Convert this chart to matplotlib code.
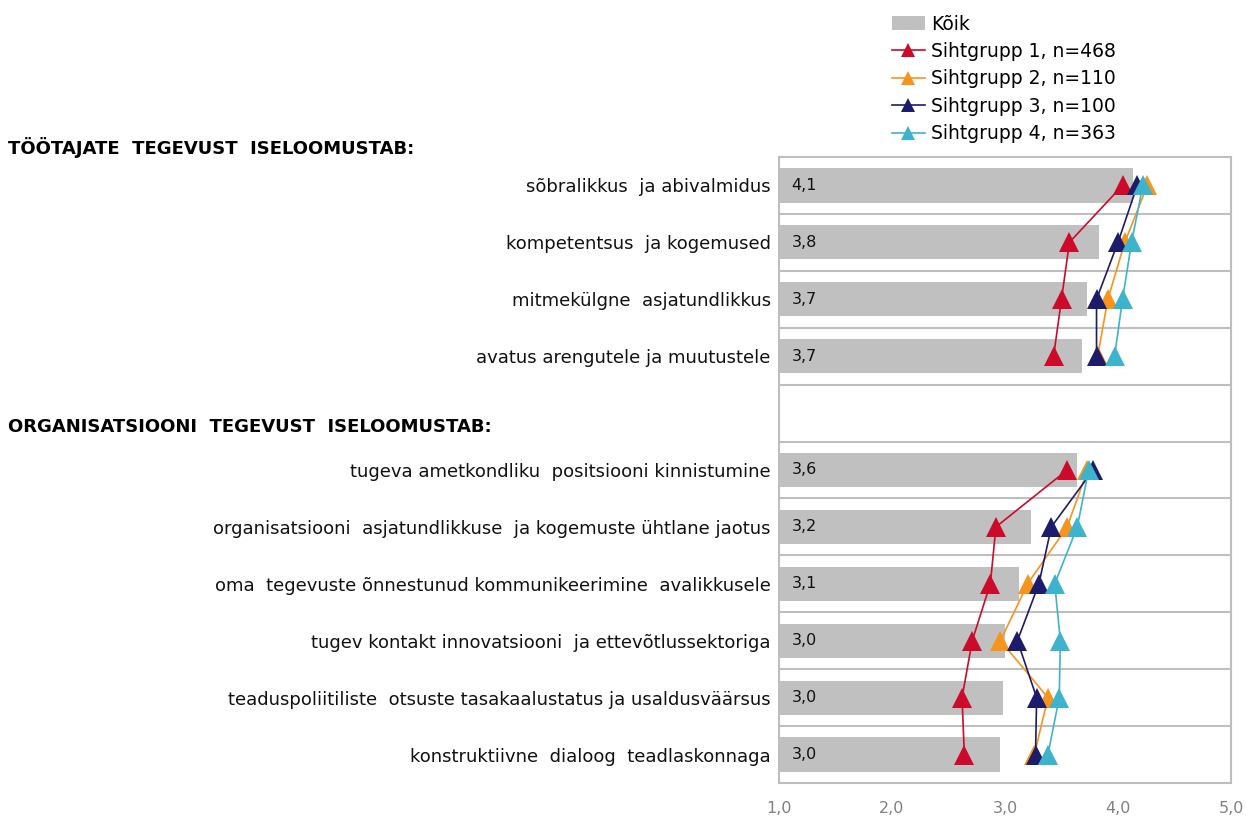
import numpy as np
import matplotlib
matplotlib.use("Agg")
import matplotlib.pyplot as plt
from matplotlib.patches import Patch
from matplotlib.lines import Line2D

# -----------------------------
# data (blank row = section break)
# -----------------------------
categories = [
    "sõbralikkus  ja abivalmidus",
    "kompetentsus  ja kogemused",
    "mitmekülgne  asjatundlikkus",
    "avatus arengutele ja muutustele",
    "",
    "tugeva ametkondliku  positsiooni kinnistumine",
    "organisatsiooni  asjatundlikkuse  ja kogemuste ühtlane jaotus",
    "oma  tegevuste õnnestunud kommunikeerimine  avalikkusele",
    "tugev kontakt innovatsiooni  ja ettevõtlussektoriga",
    "teaduspoliitiliste  otsuste tasakaalustatus ja usaldusväärsus",
    "konstruktiivne  dialoog  teadlaskonnaga",
]
koik = [4.13, 3.83, 3.73, 3.68, np.nan, 3.64, 3.23, 3.12, 3.00, 2.98, 2.96]
grupp1 = [4.04, 3.57, 3.50, 3.43, np.nan, 3.55, 2.92, 2.87, 2.71, 2.62, 2.64]
grupp2 = [4.26, 4.06, 3.91, 3.82, np.nan, 3.73, 3.55, 3.20, 2.96, 3.38, 3.26]
grupp3 = [4.17, 4.00, 3.81, 3.81, np.nan, 3.78, 3.41, 3.30, 3.11, 3.28, 3.27]
grupp4 = [4.22, 4.12, 4.04, 3.97, np.nan, 3.74, 3.64, 3.44, 3.49, 3.48, 3.38]

series_names = ["Sihtgrupp 1, n=468", "Sihtgrupp 2, n=110",
                "Sihtgrupp 3, n=100", "Sihtgrupp 4, n=363"]
series_colors = ["#CC0A2A", "#F7941D", "#1C1C6B", "#3EB3CC"]
headers = ["TÖÖTAJATE  TEGEVUST  ISELOOMUSTAB:",
           "ORGANISATSIOONI  TEGEVUST  ISELOOMUSTAB:"]
xticks = [1.0, 2.0, 3.0, 4.0, 5.0]

BAR_COLOR = "#C0C0C0"
GRID_COLOR = "#BEBEBE"
FONT = "DejaVu Sans"

# -----------------------------
# plot
# -----------------------------
fig = plt.figure(figsize=(12.46, 8.16), dpi=100)
ax = fig.add_axes([779 / 1246, 1 - 783 / 816, (1231 - 779) / 1246, (783 - 157) / 816])

y = np.arange(len(categories))
bar_w = np.array(koik) - 1.0
ax.barh(y, bar_w, left=1.0, height=0.6, color=BAR_COLOR, zorder=2)

for yi, v in zip(y, koik):
    if np.isnan(v):
        continue
    ax.text(1.11, yi, f"{v:.1f}".replace(".", ","), va="center", ha="left",
            fontsize=11.5, color="#111111", family=FONT, zorder=3)

for vals, col in zip([grupp1, grupp2, grupp3, grupp4], series_colors):
    ax.plot(vals, y, color=col, lw=1.2, marker="^", markersize=14,
            markeredgewidth=0, zorder=4)

ax.set_xlim(1, 5)
ax.set_ylim(len(categories) - 0.5, -0.5)

# row separators
for i in range(len(categories) - 1):
    ax.axhline(i + 0.5, color=GRID_COLOR, lw=1.5, zorder=1)

for sp in ax.spines.values():
    sp.set_color(GRID_COLOR)
    sp.set_linewidth(1.5)

ax.set_xticks(xticks)
ax.set_xticklabels([f"{t:.1f}".replace(".", ",") for t in xticks],
                   color="#808080", fontsize=11.5, family=FONT)
ax.tick_params(axis="x", length=0, pad=13)
ax.set_yticks(y)
ax.set_yticklabels(categories, fontsize=13, family=FONT, color="#111111")
ax.tick_params(axis="y", length=0, pad=6)

# section headers
fig.text(8 / 1246, 1 - 147 / 816, headers[0], fontsize=13, fontweight="bold",
         family=FONT, va="center", ha="left")
fig.text(8 / 1246, 1 - 427 / 816, headers[1], fontsize=13, fontweight="bold",
         family=FONT, va="center", ha="left")

# legend
handles = [Patch(facecolor=BAR_COLOR, edgecolor="none", label="Kõik")]
for name, col in zip(series_names, series_colors):
    handles.append(Line2D([0], [0], color=col, lw=1.2, marker="^",
                          markersize=10, markeredgewidth=0, label=name))
fig.legend(handles=handles, loc="upper left", bbox_to_anchor=(884 / 1246, 1 - 7 / 816),
           frameon=False, prop={"family": FONT, "size": 13.5}, handlelength=1.8,
           handletextpad=0.3, labelspacing=0.45, borderaxespad=0)

fig.savefig("out.png", dpi=100)
